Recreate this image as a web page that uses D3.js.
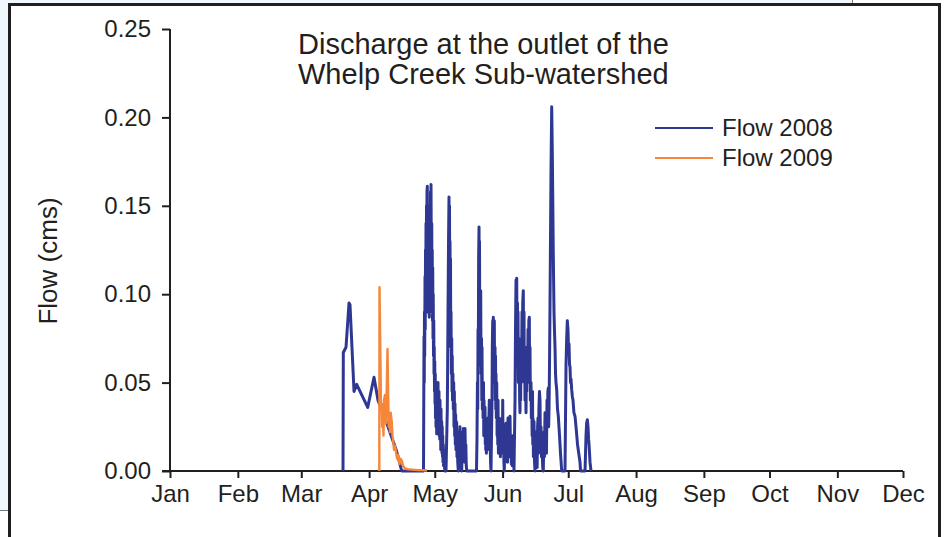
<!DOCTYPE html>
<html><head><meta charset="utf-8">
<script src="https://cdn.jsdelivr.net/npm/d3@7"></script>
<style>
html,body{margin:0;padding:0;background:#fff;}
svg{display:block;font-family:"Liberation Sans",Arial,Helvetica,sans-serif;}
</style></head>
<body>
<svg id="chart" width="945" height="537"></svg>
<script>
// ---- data ----
const months = ["Jan","Feb","Mar","Apr","May","Jun","Jul","Aug","Sep","Oct","Nov","Dec"];
const yTicks = [0, 0.05, 0.10, 0.15, 0.20, 0.25];
const titleLines = ["Discharge at the outlet of the", "Whelp Creek Sub-watershed"];
const seriesNames = ["Flow 2008", "Flow 2009"];
// [day of year (0 = Jan 1), flow in cms]
const flow2008 = [
 [79.07,0],[79.21,0.067],[80.44,0.070],[81.81,0.095],[82.27,0.094],[84.10,0.045],[85.33,0.049],
 [90.36,0.036],[93.24,0.053],[95.06,0.040],[99.63,0.025],[103.61,0.011],[105.90,0],[115.86,0],
 [116.09,0.076],[116.2,0.05],[116.3,0.09],[116.4,0.065],[116.55,0.11],[116.65,0.08],[116.78,0.125],
 [116.9,0.095],[117.0,0.14],[117.1,0.10],[117.23,0.15],[117.35,0.11],[117.45,0.158],[117.6,0.161],
 [117.7,0.12],[117.8,0.09],[117.92,0.14],[118.05,0.095],[118.15,0.145],[118.25,0.09],[118.37,0.135],
 [118.5,0.087],[118.6,0.13],[118.72,0.095],[118.83,0.15],[118.95,0.11],[119.06,0.158],[119.17,0.12],
 [119.29,0.162],[119.4,0.13],[119.52,0.095],[119.63,0.14],[119.74,0.09],[119.85,0.125],[119.97,0.085],
 [120.08,0.115],[120.2,0.075],[120.3,0.10],[120.43,0.065],[120.55,0.085],[120.66,0.055],[120.77,0.07],
 [120.89,0.045],[121.0,0.062],[121.12,0.038],[121.23,0.055],[121.34,0.03],[121.45,0.048],[121.57,0.025],
 [121.7,0.04],[121.89,0.021],[122.05,0.04],[122.17,0.03],[122.3,0.048],[122.49,0.05],[122.6,0.028],
 [122.71,0.04],[122.82,0.025],[122.94,0.045],[123.05,0.02],[123.17,0.035],[123.28,0.018],[123.4,0.04],
 [123.52,0.02],[123.63,0.03],[123.75,0.012],[123.86,0.035],[124.0,0.012],[124.18,0.028],[124.31,0.01],
 [124.42,0.025],[124.54,0.008],[124.65,0.02],[124.77,0.005],[124.9,0.015],[125.0,0.003],[125.23,0.012],
 [125.45,0.002],[125.69,0],[126.15,0],
 [126.74,0.035],[126.9,0.06],[127.06,0.09],[127.3,0.13],[127.51,0.155],[127.62,0.12],[127.74,0.15],
 [127.85,0.10],[127.97,0.13],[128.1,0.08],[128.2,0.12],[128.32,0.07],[128.43,0.09],[128.6,0.055],
 [128.75,0.075],[128.89,0.045],[129.0,0.065],[129.11,0.04],[129.3,0.055],[129.48,0.035],[129.65,0.05],
 [129.8,0.025],[129.95,0.045],[130.1,0.02],[130.26,0.038],[130.4,0.015],[130.55,0.032],[130.71,0.012],
 [130.85,0.028],[131.03,0.027],[131.15,0.008],[131.31,0.02],[131.5,0.005],[131.76,0],[131.95,0.015],
 [132.09,0.022],[132.3,0.01],[132.54,0.025],[132.7,0.005],[132.9,0.015],[133.1,0.002],[133.32,0],
 [133.5,0.012],[133.69,0.022],[133.9,0.008],[134.14,0.024],[134.3,0.01],[134.5,0.022],[134.65,0.005],
 [134.83,0.024],[135.0,0.01],[135.2,0.015],[135.4,0.003],[135.6,0],[140.08,0],
 [140.31,0.019],[140.5,0.05],[140.65,0.035],[140.77,0.08],[140.9,0.06],[141.05,0.12],[141.23,0.138],
 [141.35,0.10],[141.45,0.13],[141.57,0.08],[141.68,0.09],[141.8,0.06],[142.0,0.102],[142.15,0.055],
 [142.37,0.075],[142.5,0.04],[142.6,0.07],[142.75,0.035],[142.92,0.05],[143.1,0.03],[143.28,0.05],
 [143.4,0.02],[143.51,0.04],[143.7,0.025],[143.97,0.036],[144.1,0.015],[144.2,0.03],[144.3,0.012],
 [144.42,0.03],[144.6,0.01],[144.88,0.025],[145.1,0.012],[145.34,0.03],[145.6,0.02],[145.93,0.04],
 [146.1,0.015],[146.25,0.02],[146.5,0.005],[146.71,0],
 [147.17,0.04],[147.3,0.07],[147.49,0.085],[147.6,0.06],[147.76,0.087],[147.9,0.065],[148.08,0.08],
 [148.22,0.085],[148.35,0.05],[148.54,0.07],[148.65,0.04],[148.77,0.065],[148.9,0.035],[148.99,0.055],
 [149.15,0.03],[149.31,0.05],[149.5,0.02],[149.68,0.04],[149.8,0.015],[149.91,0.04],[150.1,0.01],
 [150.37,0.03],[150.6,0.012],[150.82,0.027],[151.0,0.008],[151.28,0.025],[151.5,0.01],[151.74,0.03],
 [151.9,0.015],[152.06,0.04],[152.25,0.01],[152.42,0.02],[152.6,0.005],[152.79,0],[153.0,0.02],
 [153.11,0.005],[153.3,0.025],[153.57,0.027],[153.8,0.008],[154.02,0.02],[154.25,0.005],[154.48,0.03],
 [154.7,0.01],[154.94,0.028],[155.15,0.008],[155.39,0.031],[155.6,0.012],[155.85,0.02],[156.0,0.004],
 [156.17,0.015],[156.35,0.003],[156.54,0.02],[156.76,0.005],[157.0,0.012],[157.22,0],
 [157.68,0.04],[157.9,0.08],[158.14,0.108],[158.3,0.09],[158.46,0.109],[158.6,0.07],[158.82,0.095],
 [158.95,0.06],[159.05,0.09],[159.2,0.05],[159.4,0.075],[159.64,0.068],[159.8,0.04],[159.96,0.033],
 [160.1,0.06],[160.25,0.04],[160.42,0.07],[160.6,0.05],[160.88,0.09],[161.0,0.06],[161.2,0.095],
 [161.47,0.102],[161.6,0.07],[161.79,0.09],[161.95,0.05],[162.1,0.07],[162.25,0.04],[162.4,0.06],
 [162.71,0.033],[162.9,0.06],[163.05,0.045],[163.16,0.07],[163.4,0.05],[163.62,0.08],[163.8,0.055],
 [164.0,0.085],[164.22,0.087],[164.35,0.05],[164.53,0.07],[164.7,0.04],[164.99,0.05],[165.15,0.03],
 [165.31,0.045],[165.5,0.02],[165.68,0.045],[165.8,0.015],[165.91,0.03],[166.1,0.008],[166.36,0.028],
 [166.6,0.005],[166.82,0],[167.0,0.015],[167.28,0.022],[167.45,0.005],[167.6,0.015],[167.8,0.002],
 [168.0,0.025],[168.19,0.03],[168.4,0.01],[168.6,0.035],[168.85,0.045],[169.1,0.04],[169.3,0.015],
 [169.56,0.025],[169.8,0.008],[170.1,0.012],[170.34,0.002],[170.61,0],[170.8,0.015],[170.93,0.022],
 [171.1,0.008],[171.39,0.033],[171.6,0.015],[171.85,0.028],[172.05,0.01],[172.3,0.04],[172.5,0.025],
 [172.7,0.045],[172.9,0.047],[173.05,0.025],[173.22,0.035],[173.45,0.06],[173.68,0.095],[174.13,0.170],
 [174.45,0.206],[174.73,0.180],[175.19,0.121],[175.50,0.090],[175.7,0.08],[175.96,0.070],[176.2,0.055],
 [176.42,0.050],[176.74,0.046],[177.1,0.035],[177.47,0.031],[178.02,0.020],[178.47,0.010],[179.02,0],[180.53,0],
 [180.99,0.060],[181.3,0.075],[181.58,0.085],[181.90,0.080],[182.1,0.07],[182.36,0.072],[182.6,0.06],
 [182.82,0.059],[183.05,0.05],[183.27,0.052],[183.59,0.046],[183.9,0.042],[184.19,0.040],[184.6,0.033],
 [185.10,0.031],[185.56,0.025],[186.25,0.015],[186.8,0.01],[187.39,0.005],
 [187.62,0],[189.68,0],[190.13,0.020],[190.4,0.027],[190.73,0.029],[191.05,0.025],[191.3,0.018],[191.51,0.015],
 [191.96,0.005],[192.42,0]
];
const flow2009 = [
 [95.66,0],[95.75,0.104],[96.21,0.060],[96.43,0.035],[96.75,0.038],[96.98,0.025],[97.21,0.033],
 [97.58,0.020],[97.81,0.040],[98.26,0.043],[98.49,0.028],[98.72,0.027],[99.04,0.045],
 [99.41,0.069],[99.63,0.050],[99.95,0.025],[100.23,0.031],[100.55,0.022],[100.87,0.033],
 [101.32,0.028],[101.69,0.020],[101.92,0.018],[102.38,0.012],[102.84,0.014],[103.29,0.011],
 [103.75,0.007],[104.34,0.009],[104.89,0.004],[105.35,0.007],[105.90,0.006],[106.49,0.003],
 [107.40,0.0015],[108.78,0.001],[110.60,0.0008],[113.34,0.0005],[115.17,0.0005],[117.46,0.0003]
];

// ---- layout ----
const svg = d3.select("#chart");
const W = 945, H = 537;
const plot = {left:170, right:903, top:29, bottom:471};
const blue = "#2e3893", orange = "#f5863a", ink = "#231f20";
const font = "Liberation Sans, Arial, sans-serif";

// scanned-page frame
svg.append("rect").attr("x",0).attr("y",0).attr("width",W).attr("height",H).attr("fill","#fff");
svg.append("rect").attr("x",0).attr("y",0).attr("width",9).attr("height",510).attr("fill","#eef8fd");
svg.append("rect").attr("x",0).attr("y",0).attr("width",853).attr("height",4).attr("fill","#eef8fd");
svg.append("line").attr("x1",0).attr("x2",9).attr("y1",510.5).attr("y2",510.5).attr("stroke","#777").attr("stroke-width",1);
svg.append("line").attr("x1",852.5).attr("x2",852.5).attr("y1",0).attr("y2",4).attr("stroke","#777").attr("stroke-width",1);
svg.append("path").attr("d",`M9.5,${H} V4.5 H939.5 V${H}`).attr("fill","none").attr("stroke",ink).attr("stroke-width",3);

const t0 = new Date(2008,0,1).getTime();
const toDate = d => new Date(t0 + d*86400000);
const x = d3.scaleTime().domain([new Date(2008,0,1), new Date(2008,11,1)]).range([plot.left, plot.right]);
const y = d3.scaleLinear().domain([0,0.25]).range([plot.bottom, plot.top]);

// axes
const xAxis = d3.axisBottom(x)
  .tickValues(months.map((m,i)=>new Date(2008,i,1)))
  .tickFormat((d,i)=>months[i]).tickSize(7).tickPadding(7).tickSizeOuter(0);
const gx = svg.append("g").attr("transform",`translate(0,${plot.bottom})`).call(xAxis);
const yAxis = d3.axisLeft(y).tickValues(yTicks).tickFormat(d3.format(".2f"))
  .tickSize(8).tickPadding(11).tickSizeOuter(0);
const gy = svg.append("g").attr("transform",`translate(${plot.left},0)`).call(yAxis);
[gx,gy].forEach(g=>{
  g.select(".domain").attr("stroke",ink).attr("stroke-width",2);
  g.selectAll(".tick line").attr("stroke",ink).attr("stroke-width",2);
  g.selectAll(".tick text").attr("fill",ink).style("font-size","24px").style("font-family",font);
});
gy.select(".domain").attr("d",`M0,${plot.bottom}V${plot.top}`);
gx.select(".domain").attr("d",`M${plot.left-8},0H${plot.right}`);

// y title
svg.append("text").attr("transform",`translate(57,261) rotate(-90)`)
  .attr("text-anchor","middle").attr("fill",ink).style("font-size","26px").text("Flow (cms)");

// title
svg.append("g").selectAll("text").data(titleLines).join("text")
  .attr("x",298).attr("y",(d,i)=>54+i*30).attr("fill",ink).style("font-size","29px").text(d=>d);

// lines
const line = d3.line().x(d=>x(toDate(d[0]))).y(d=>y(d[1]));
svg.append("path").datum(flow2008).attr("d",line).attr("fill","none")
  .attr("stroke",blue).attr("stroke-width",3).attr("stroke-linejoin","round");
svg.append("path").datum(flow2009).attr("d",line).attr("fill","none")
  .attr("stroke",orange).attr("stroke-width",2.4).attr("stroke-linejoin","round");

// legend
const leg = svg.append("g").selectAll("g").data(seriesNames).join("g")
  .attr("transform",(d,i)=>`translate(655,${128+i*30})`);
leg.append("line").attr("x1",0).attr("x2",58).attr("y1",0).attr("y2",0)
  .attr("stroke",(d,i)=>i?orange:blue).attr("stroke-width",2.2);
leg.append("text").attr("x",67).attr("y",8).attr("fill",ink).style("font-size","24px").text(d=>d);
</script>
</body></html>
